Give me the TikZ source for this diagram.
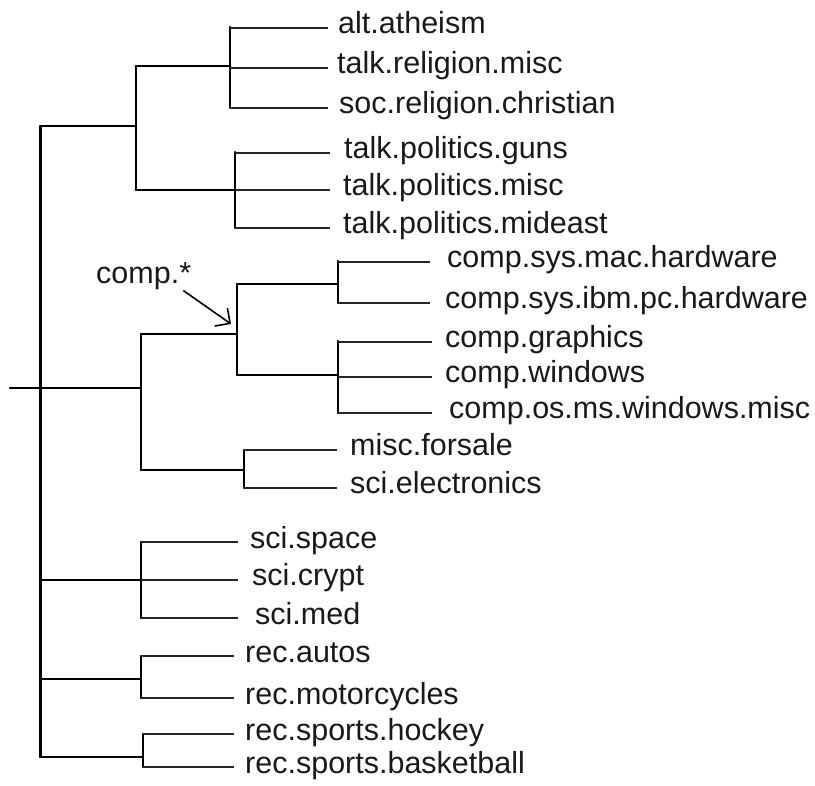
\documentclass[tikz,border=0pt]{standalone}
\usepackage{fontspec}
\setmainfont{Liberation Sans}
\usetikzlibrary{arrows.meta}
\begin{document}
\begin{tikzpicture}[x=1pt,y=-1pt,
  lbl/.style={anchor=base west,inner sep=0pt,text=black!90,font=\fontsize{30.5}{36}\selectfont},
  vln/.style={line width=2.4pt,line cap=round},
  hln/.style={line width=2.1pt,line cap=round},
  lf/.style={line width=1.7pt,black!85},
  rootln/.style={line width=3pt}]
\useasboundingbox (0,0) rectangle (815,786);

% ---------- coordinates ----------
\coordinate (Rt) at (40,126);
\coordinate (Rb) at (40,757);
\coordinate (Rl) at (10,388);
\coordinate (At) at (136,66);
\coordinate (Ab) at (136,190);
\coordinate (A1t) at (230,27);
\coordinate (A1b) at (230,108);
\coordinate (A2t) at (235,152);
\coordinate (A2b) at (235,228);
\coordinate (Bt) at (141,334);
\coordinate (Bb) at (141,470);
\coordinate (Ct) at (237,284);
\coordinate (Cb) at (237,375);
\coordinate (C1t) at (338,261);
\coordinate (C1b) at (338,303);
\coordinate (C2t) at (338,341);
\coordinate (C2b) at (338,413);
\coordinate (Dt) at (244,450);
\coordinate (Db) at (244,488);
\coordinate (Et) at (141,542);
\coordinate (Em) at (141,580);
\coordinate (Eb) at (141,618);
\coordinate (Ft) at (141,656);
\coordinate (Fm) at (141,679);
\coordinate (Fb) at (141,698);
\coordinate (Gt) at (143,734);
\coordinate (Gb) at (143,767);
\coordinate (ah) at (231,324);

% leaf line ends
\coordinate (e1) at (328,28);
\coordinate (e2) at (328,68);
\coordinate (e3) at (328,108);
\coordinate (e4) at (330,153);
\coordinate (e5) at (330,190);
\coordinate (e6) at (330,228);
\coordinate (e7) at (430,262);
\coordinate (e8) at (430,303);
\coordinate (e9) at (432,342);
\coordinate (e10) at (432,377);
\coordinate (e11) at (432,413);
\coordinate (e12) at (337,450);
\coordinate (e13) at (337,488);
\coordinate (e14) at (238,542);
\coordinate (e15) at (238,580);
\coordinate (e16) at (238,618);
\coordinate (e17) at (234,656);
\coordinate (e18) at (234,698);
\coordinate (e19) at (234,734);
\coordinate (e20) at (234,767);

% ---------- labels ----------
\node[lbl] (alt) at (338,34) {alt.atheism};
\node[lbl] (trm) at (337,74) {talk.religion.misc};
\node[lbl] (src) at (339,114) {soc.religion.christian};
\node[lbl] (tpg) at (344,159) {talk.politics.guns};
\node[lbl] (tpm) at (343,196) {talk.politics.misc};
\node[lbl] (tpe) at (343,234) {talk.politics.mideast};
\node[lbl] (mac) at (447,268) {comp.sys.mac.hardware};
\node[lbl] (ibm) at (445,309) {comp.sys.ibm.pc.hardware};
\node[lbl] (gra) at (445,348) {comp.graphics};
\node[lbl] (win) at (445,383) {comp.windows};
\node[lbl] (osm) at (449,419) {comp.os.ms.windows.misc};
\node[lbl] (mfs) at (350,456) {misc.forsale};
\node[lbl] (sel) at (350,494) {sci.electronics};
\node[lbl] (ssp) at (250,548) {sci.space};
\node[lbl] (scr) at (252,586) {sci.crypt};
\node[lbl] (smd) at (255,624) {sci.med};
\node[lbl] (rau) at (245,662) {rec.autos};
\node[lbl] (rmo) at (245,704) {rec.motorcycles};
\node[lbl] (rsh) at (245,740) {rec.sports.hockey};
\node[lbl] (rsb) at (245,773) {rec.sports.basketball};
\node[lbl] (cl) at (96,284) {comp.*};

% ---------- root ----------
\draw[rootln] (Rt) -- (Rb);
\draw[hln] (Rt) -- (Rt -| At);
\draw[hln] (Rl) -- (Rl -| Bt);
\draw[hln] (Em -| Rt) -- (Em);
\draw[hln] (Fm -| Rt) -- (Fm);
\draw[hln] (Rb) -- (Rb -| Gt);

% ---------- A ----------
\draw[vln] (At) -- (Ab);
\draw[hln] (At) -- (At -| A1t);
\draw[hln] (Ab) -- (Ab -| A2t);
\draw[vln] (A1t) -- (A1b);
\draw[vln] (A2t) -- (A2b);
\draw[lf] (A1t |- e1) -- (e1);
\draw[lf] (A1t |- e2) -- (e2);
\draw[lf] (A1t |- e3) -- (e3);
\draw[lf] (A2t |- e4) -- (e4);
\draw[lf] (A2t |- e5) -- (e5);
\draw[lf] (A2t |- e6) -- (e6);

% ---------- B ----------
\draw[vln] (Bt) -- (Bb);
\draw[hln] (Bt) -- (Bt -| Ct);
\draw[hln] (Bb) -- (Bb -| Dt);
\draw[vln] (Ct) -- (Cb);
\draw[hln] (Ct) -- (Ct -| C1t);
\draw[hln] (Cb) -- (Cb -| C2t);
\draw[vln] (C1t) -- (C1b);
\draw[vln] (C2t) -- (C2b);
\draw[vln] (Dt) -- (Db);
\draw[lf] (C1t |- e7) -- (e7);
\draw[lf] (C1t |- e8) -- (e8);
\draw[lf] (C2t |- e9) -- (e9);
\draw[lf] (C2t |- e10) -- (e10);
\draw[lf] (C2t |- e11) -- (e11);
\draw[lf] (Dt |- e12) -- (e12);
\draw[lf] (Dt |- e13) -- (e13);

% ---------- E, F, G ----------
\draw[vln] (Et) -- (Eb);
\draw[lf] (Et |- e14) -- (e14);
\draw[lf] (Et |- e15) -- (e15);
\draw[lf] (Et |- e16) -- (e16);
\draw[vln] (Ft) -- (Fb);
\draw[lf] (Ft |- e17) -- (e17);
\draw[lf] (Ft |- e18) -- (e18);
\draw[vln] (Gt) -- (Gb);
\draw[lf] (Gt |- e19) -- (e19);
\draw[lf] (Gt |- e20) -- (e20);

% ---------- arrow ----------
\draw[line width=1.6pt,-{Straight Barb[length=11pt,width=22pt]}] ([xshift=-8pt]cl.south east) -- (ah);
\end{tikzpicture}
\end{document}
